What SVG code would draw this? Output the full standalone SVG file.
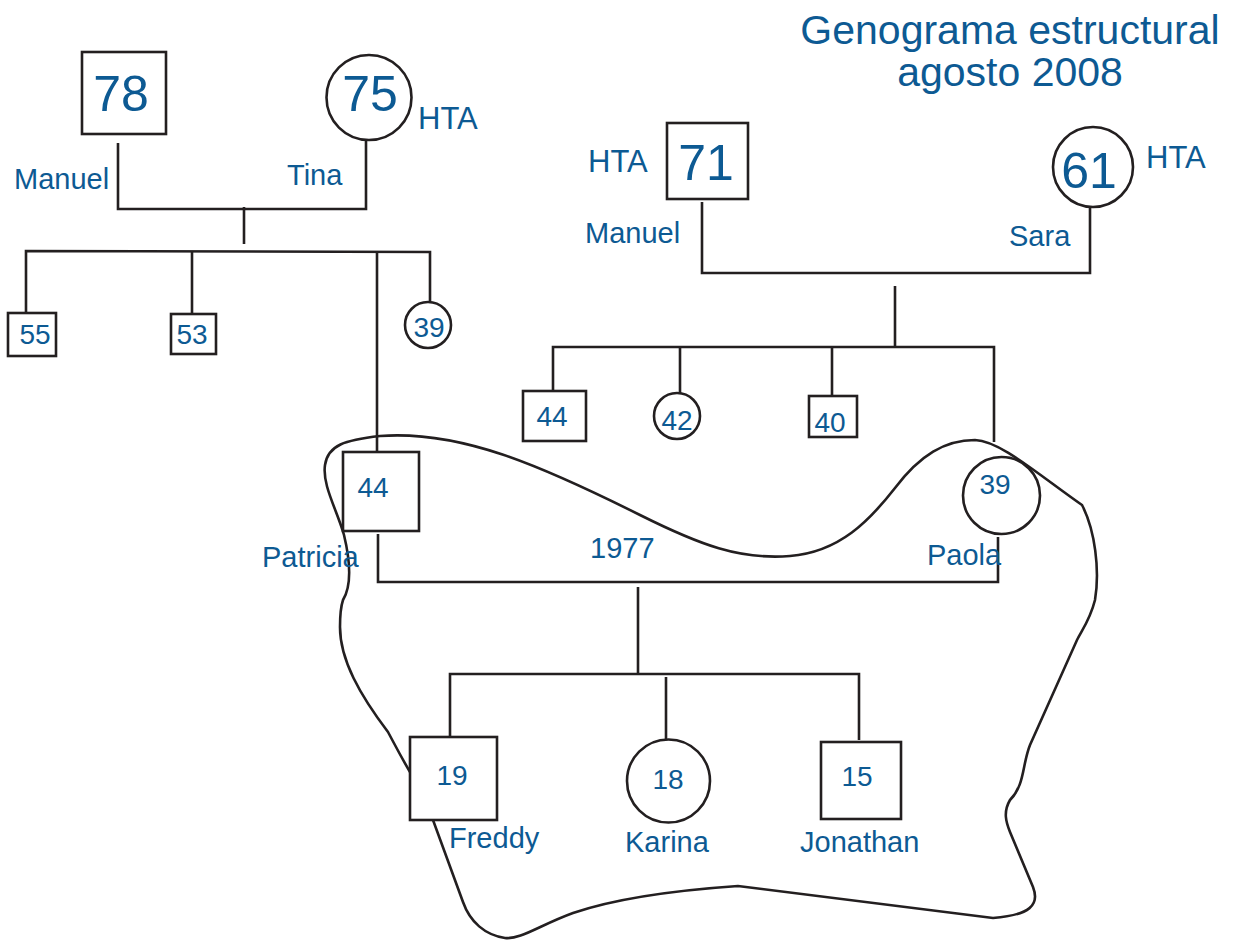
<svg xmlns="http://www.w3.org/2000/svg" width="1234" height="941" viewBox="0 0 1234 941">
<style>
.ln{fill:none;stroke:#231f20;stroke-width:2.6;stroke-linejoin:miter;stroke-linecap:butt}
.nd{fill:#ffffff;stroke:#231f20;stroke-width:2.6}
text{font-family:"Liberation Sans",Arial,Helvetica,sans-serif;fill:#0d5a93}
.big{font-size:50px;text-anchor:middle}
.num{font-size:28px;text-anchor:middle}
.lbl{font-size:29px}
.hta{font-size:31px}
.ttl{font-size:41px;text-anchor:middle}
</style>
<rect width="1234" height="941" fill="#ffffff"/>
<g id="title">
<text class="ttl" x="1010" y="44">Genograma estructural</text>
<text class="ttl" x="1010" y="86">agosto 2008</text>
</g>
<g id="household">
<path class="ln" d="M343,600 C352,585 350,560 344,535 C337,510 322,485 325,465 C328,445 345,440 380,436 C460,430 540,465 640,515 C700,545 740,560 790,556 C840,552 870,520 895,488 C920,455 945,440 975,440 C1000,441 1035,472 1082,505 C1095,530 1100,570 1095,600 C1090,620 1082,630 1077,640 L1030,745 C1022,765 1025,785 1010,800 C1003,812 1006,822 1010,832 L1033,887 C1040,905 1030,915 993,918 L738,886 C680,890 617,898 573,913 C540,925 520,940 505,938 C485,935 470,922 463,902 L433,820 L410,772 C400,755 395,745 388,732 C360,695 340,660 340,627 C340,612 341,606 343,600 Z"/>
</g>
<g id="connectors">
<polyline class="ln" points="118,143 118,209 366,209 366,141"/>
<line class="ln" x1="244" y1="207" x2="244" y2="244"/>
<polyline class="ln" points="26,313 26,251 430,252 430,302"/>
<line class="ln" x1="192" y1="251" x2="192" y2="314"/>
<line class="ln" x1="377" y1="251" x2="377" y2="452"/>
<polyline class="ln" points="702,202 702,273 1090,273 1090,207"/>
<line class="ln" x1="895" y1="286" x2="895" y2="347"/>
<polyline class="ln" points="553,391 553,347 994,347 994,442"/>
<line class="ln" x1="680" y1="347" x2="680" y2="393"/>
<line class="ln" x1="832" y1="347" x2="832" y2="396"/>
<polyline class="ln" points="378,534 378,582 998,582 998,537"/>
<line class="ln" x1="638" y1="587" x2="638" y2="674"/>
<polyline class="ln" points="450,737 450,674 859,674 859,740"/>
<line class="ln" x1="666" y1="677" x2="666" y2="739"/>
</g>
<g id="manuel-abuelo-p">
<rect class="nd" x="82" y="52" width="84" height="82"/>
<text class="big" x="121" y="111">78</text>
<text class="lbl" x="14" y="189">Manuel</text>
</g>
<g id="tina">
<circle class="nd" cx="369" cy="97.5" r="42.5"/>
<text class="big" x="370" y="111">75</text>
<text class="hta" x="418" y="129">HTA</text>
<text class="lbl" x="287" y="185">Tina</text>
</g>
<g id="hijo55">
<rect class="nd" x="8" y="313" width="48" height="43"/>
<text class="num" x="35" y="344">55</text>
</g>
<g id="hijo53">
<rect class="nd" x="171" y="314" width="45" height="40"/>
<text class="num" x="192" y="344">53</text>
</g>
<g id="hija39">
<circle class="nd" cx="428" cy="325" r="23"/>
<text class="num" x="429" y="337">39</text>
</g>
<g id="manuel-abuelo-m">
<rect class="nd" x="667" y="123" width="81" height="76"/>
<text class="big" x="706" y="180">71</text>
<text class="hta" x="588" y="172">HTA</text>
<text class="lbl" x="585" y="243">Manuel</text>
</g>
<g id="sara">
<circle class="nd" cx="1093" cy="167" r="40"/>
<text class="big" x="1089" y="188">61</text>
<text class="hta" x="1146" y="168">HTA</text>
<text class="lbl" x="1009" y="246">Sara</text>
</g>
<g id="hijo44">
<rect class="nd" x="523" y="391" width="63" height="50"/>
<text class="num" x="552" y="426">44</text>
</g>
<g id="hija42">
<circle class="nd" cx="677" cy="416" r="23"/>
<text class="num" x="677" y="430">42</text>
</g>
<g id="hijo40">
<rect class="nd" x="809" y="396" width="48" height="41"/>
<text class="num" x="830" y="432">40</text>
</g>
<g id="patricia">
<rect class="nd" x="343" y="452" width="76" height="79"/>
<text class="num" x="373" y="497">44</text>
<text class="lbl" x="262" y="567">Patricia</text>
</g>
<g id="paola">
<circle class="nd" cx="1001.5" cy="495.5" r="38.5"/>
<text class="num" x="995" y="494">39</text>
<text class="lbl" x="927" y="565">Paola</text>
</g>
<g id="union1977">
<text class="lbl" x="590" y="558">1977</text>
</g>
<g id="freddy">
<rect class="nd" x="410" y="737" width="87" height="83"/>
<text class="num" x="452" y="785">19</text>
<text class="lbl" x="449" y="848">Freddy</text>
</g>
<g id="karina">
<circle class="nd" cx="668.5" cy="781" r="41.5"/>
<text class="num" x="668" y="789">18</text>
<text class="lbl" x="625" y="852">Karina</text>
</g>
<g id="jonathan">
<rect class="nd" x="821" y="742" width="80" height="77"/>
<text class="num" x="857" y="786">15</text>
<text class="lbl" x="800" y="852">Jonathan</text>
</g>
</svg>
